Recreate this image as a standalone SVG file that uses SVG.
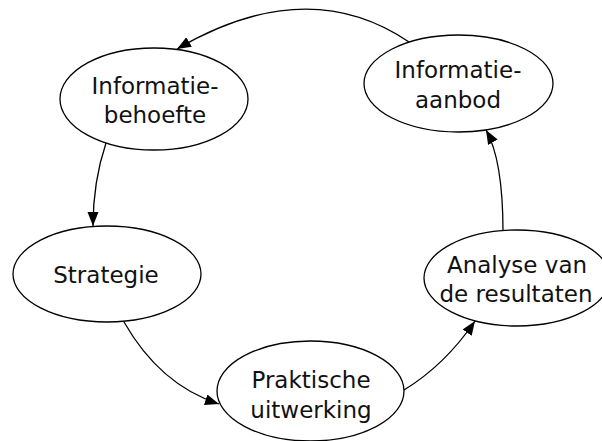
<svg xmlns="http://www.w3.org/2000/svg" width="602" height="441" viewBox="0 0 602 441">
<style>
.n ellipse{fill:#fff;stroke:#000;stroke-width:1.3}
.n text{font-family:"DejaVu Sans",sans-serif;font-size:23px;fill:#111;text-anchor:middle}
.c path{fill:none;stroke:#000;stroke-width:1.3;marker-end:url(#ah)}
</style>
<defs>
<marker id="ah" markerUnits="userSpaceOnUse" markerWidth="16" markerHeight="12" refX="14" refY="5.5" orient="auto">
<path d="M0,0 L14,5.5 L0,11 z" fill="#000"/>
</marker>
</defs>
<rect width="602" height="441" fill="#fff"/>
<g class="c" id="connectors">
<path d="M409,42 Q307,-27 177,49"/>
<path d="M106,143 C97,170 93,195 93,226"/>
<path d="M124,322 Q160,385 219,404"/>
<path d="M404,390 Q445,365 475,321"/>
<path d="M503,232 Q503,160 486,130"/>
</g>
<g class="n" id="n-behoefte">
<ellipse cx="154" cy="99" rx="94" ry="51"/>
<text x="155" y="94">Informatie-</text>
<text x="155" y="123">behoefte</text>
</g>
<g class="n" id="n-aanbod">
<ellipse cx="458.5" cy="83.5" rx="94.5" ry="48.5"/>
<text x="458" y="78">Informatie-</text>
<text x="458" y="108">aanbod</text>
</g>
<g class="n" id="n-strategie">
<ellipse cx="107" cy="274" rx="94" ry="48"/>
<text x="106" y="283">Strategie</text>
</g>
<g class="n" id="n-praktische">
<ellipse cx="310.5" cy="391" rx="93.5" ry="50"/>
<text x="311" y="388">Praktische</text>
<text x="311" y="418">uitwerking</text>
</g>
<g class="n" id="n-analyse">
<ellipse cx="517" cy="278" rx="93" ry="48"/>
<text x="517" y="273">Analyse van</text>
<text x="516" y="302">de resultaten</text>
</g>
</svg>
